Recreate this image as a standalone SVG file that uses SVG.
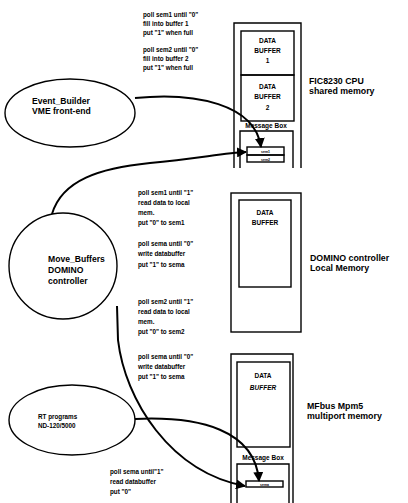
<svg xmlns="http://www.w3.org/2000/svg" width="408" height="503" viewBox="0 0 408 503">
<defs>
<style>
text{font-family:"Liberation Sans",Arial,sans-serif;font-weight:bold;fill:#000}
.s{font-size:6.3px}
.n{font-size:8.6px}
.l{font-size:8.8px}
.b{font-size:6.5px;text-anchor:middle}
.t{font-size:3.5px;text-anchor:middle}
.box{fill:none;stroke:#000;stroke-width:1.4}
.node{fill:#fff;stroke:#000;stroke-width:1.4}
.c{fill:none;stroke:#000;stroke-width:2}
</style>
<marker id="ah" viewBox="0 0 10 10" refX="9" refY="5" markerWidth="10" markerHeight="10" markerUnits="userSpaceOnUse" orient="auto">
<path d="M0,0 L10,5 L0,10 z" fill="#000"/>
</marker>
</defs>
<rect width="408" height="503" fill="#fff"/>

<g id="fic8230">
<path class="box" d="M234,168 V23 H301 V168"/>
<rect class="box" x="241" y="31" width="53" height="44"/>
<text class="b" x="267.5" y="43">DATA</text>
<text class="b" x="267.5" y="53">BUFFER</text>
<text class="b" x="267.5" y="63">1</text>
<rect class="box" x="241" y="75" width="53" height="46"/>
<text class="b" x="267.5" y="89">DATA</text>
<text class="b" x="267.5" y="99">BUFFER</text>
<text class="b" x="267.5" y="110">2</text>
<text class="b" x="266" y="128">Message Box</text>
<path class="box" d="M240,168 V131 H293 V168"/>
<rect class="box" x="247" y="147" width="37" height="8"/>
<rect class="box" x="247" y="155" width="37" height="7"/>
<text class="t" x="265.5" y="153">sem1</text>
<text class="t" x="265.5" y="160.5">sem2</text>
<text class="l" x="309" y="84">FIC8230 CPU</text>
<text class="l" x="309" y="94">shared memory</text>
</g>

<g id="domino-mem">
<rect class="box" x="231" y="193" width="70" height="139"/>
<rect class="box" x="239" y="200" width="52" height="87"/>
<text class="b" x="265" y="215">DATA</text>
<text class="b" x="265" y="225">BUFFER</text>
<text class="l" x="310" y="261">DOMINO controller</text>
<text class="l" x="310" y="271">Local Memory</text>
</g>

<g id="mpm5">
<path class="box" d="M231,503 V354 H293 V503"/>
<rect class="box" x="237" y="362" width="53" height="85"/>
<text class="b" x="263" y="378">DATA</text>
<text class="b" x="263" y="390" font-style="italic">BUFFER</text>
<text class="b" x="263" y="460">Message Box</text>
<path class="box" d="M237,503 V464 H289 V503"/>
<rect class="box" x="246" y="481" width="37" height="6"/>
<text class="t" x="264.5" y="485.5">sema</text>
<text class="l" x="307" y="409">MFbus Mpm5</text>
<text class="l" x="307" y="419">multiport memory</text>
</g>

<g id="event-builder">
<ellipse class="node" cx="70" cy="113" rx="65" ry="34"/>
<text class="n" x="32" y="104">Event_Builder</text>
<text class="n" x="32" y="114">VME front-end</text>
</g>

<g id="move-buffers">
<ellipse class="node" cx="63" cy="266" rx="54" ry="53"/>
<text class="n" x="48" y="262">Move_Buffers</text>
<text class="n" x="48" y="273">DOMINO</text>
<text class="n" x="48" y="284">controller</text>
</g>

<g id="rt-programs">
<ellipse class="node" cx="72" cy="420" rx="63" ry="35"/>
<text class="s" x="38" y="419" font-size="7">RT programs</text>
<text class="s" x="38" y="428" font-size="7">ND-120/5000</text>
</g>

<g id="connectors">
<path class="c" d="M135,98 C195,92 255,104 261,147" marker-end="url(#ah)"/>
<path class="c" d="M52,214 C62,180 100,168 150,163 S225,153 246,152" marker-end="url(#ah)"/>
<path class="c" d="M117,306 L118,340 C125,400 170,472 245,486" marker-end="url(#ah)"/>
<path class="c" d="M135,419 C200,416 255,430 259,481" marker-end="url(#ah)"/>
</g>

<g id="labels">
<text class="s" x="143" y="17">poll sem1 until "0"</text>
<text class="s" x="143" y="26">fill into buffer 1</text>
<text class="s" x="143" y="35">put "1" when full</text>
<text class="s" x="143" y="52">poll sem2 until "0"</text>
<text class="s" x="143" y="61">fill into buffer 2</text>
<text class="s" x="143" y="70">put "1" when full</text>

<text class="s" x="138" y="195">poll sem1 until "1"</text>
<text class="s" x="138" y="205">read data to local</text>
<text class="s" x="138" y="215">mem.</text>
<text class="s" x="138" y="225">put "0" to sem1</text>
<text class="s" x="138" y="246">poll sema until "0"</text>
<text class="s" x="138" y="256">write databuffer</text>
<text class="s" x="138" y="267">put "1" to sema</text>

<text class="s" x="138" y="304">poll sem2 until "1"</text>
<text class="s" x="138" y="314">read data to local</text>
<text class="s" x="138" y="324">mem.</text>
<text class="s" x="138" y="334">put "0" to sem2</text>
<text class="s" x="138" y="359">poll sema until "0"</text>
<text class="s" x="138" y="369">write databuffer</text>
<text class="s" x="138" y="379">put "1" to sema</text>

<text class="s" x="110" y="474">poll sema until"1"</text>
<text class="s" x="110" y="484">read databuffer</text>
<text class="s" x="110" y="494">put "0"</text>
</g>
</svg>
